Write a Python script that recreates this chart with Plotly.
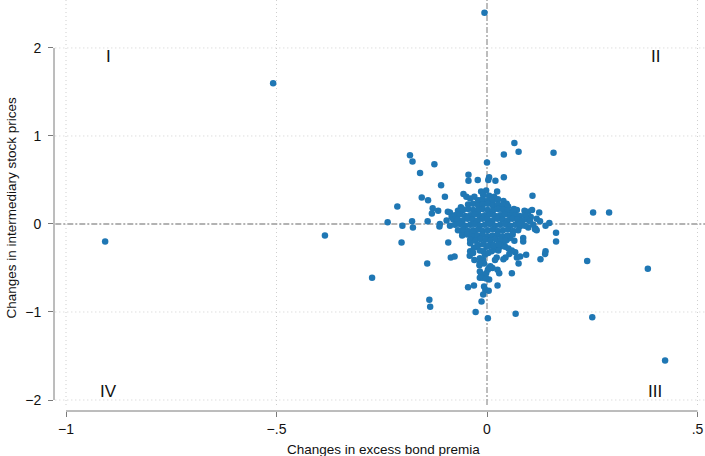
import plotly.graph_objects as go

# ---- data: (change in excess bond premia, change in intermediary stock prices)
outlier_pts = [
    (-0.006, 2.40), (-0.508, 1.60), (-0.907, -0.20), (-0.385, -0.13), (-0.273, -0.61),
    (0.252, 0.13), (0.290, 0.13), (0.238, -0.42), (0.382, -0.51), (0.250, -1.06),
    (0.423, -1.55), (0.158, 0.81),
]
upper_pts = [
    (-0.183, 0.78), (-0.177, 0.71), (-0.159, 0.58), (-0.125, 0.68), (-0.109, 0.44),
    (-0.155, 0.30), (-0.140, 0.27), (-0.100, 0.31), (-0.213, 0.20), (-0.129, 0.18),
    (-0.131, 0.12), (-0.116, 0.15), (-0.093, 0.14), (-0.088, 0.13), (-0.062, 0.19),
    (-0.059, 0.17), (-0.056, 0.34), (-0.049, 0.31), (-0.040, 0.29), (-0.030, 0.31),
    (-0.044, 0.56), (-0.044, 0.49), (-0.022, 0.50), (0.000, 0.70), (0.005, 0.53),
    (0.003, 0.50), (0.020, 0.49), (0.040, 0.53), (0.065, 0.92), (0.040, 0.79),
    (0.075, 0.82), (-0.014, 0.37), (-0.002, 0.38), (0.024, 0.37), (0.108, 0.32),
    (0.039, 0.26), (0.047, 0.23), (0.064, 0.17), (0.071, 0.16), (0.089, 0.15),
    (0.098, 0.14), (0.107, 0.16), (0.124, 0.13), (0.118, 0.06), (-0.009, 0.33),
    (-0.013, 0.27), (0.005, 0.32), (0.017, 0.31),
]
middle_pts = [
    (-0.236, 0.02), (-0.201, -0.02), (-0.178, 0.03), (-0.176, -0.04), (-0.141, 0.03),
    (-0.203, -0.21), (-0.112, 0.00), (-0.096, 0.04), (-0.080, 0.05), (-0.072, 0.05),
    (-0.113, -0.03), (0.139, -0.02), (0.148, 0.01), (0.115, -0.05), (0.098, -0.04),
    (0.078, -0.03), (0.118, -0.07), (0.114, -0.06), (-0.088, -0.02), (-0.084, 0.08),
    (0.104, 0.08), (0.110, -0.01), (0.126, 0.03),
]
lower_pts = [
    (0.164, -0.10), (0.164, -0.20), (0.139, -0.31), (0.138, -0.34), (0.127, -0.40),
    (0.086, -0.16), (0.086, -0.20), (0.065, -0.19), (0.093, -0.35), (0.079, -0.37),
    (0.075, -0.45), (0.059, -0.56), (0.067, -0.32), (0.059, -0.30), (0.053, -0.34),
    (0.044, -0.38), (0.039, -0.40), (0.023, -0.38), (0.019, -0.41), (0.008, -0.48),
    (0.013, -0.50), (0.005, -0.50), (0.025, -0.52), (0.029, -0.56), (-0.009, -0.41),
    (-0.007, -0.45), (-0.005, -0.60), (0.005, -0.63), (-0.007, -0.71), (-0.004, -0.75),
    (0.004, -0.76), (-0.009, -0.80), (0.025, -0.70), (-0.013, -0.88), (0.068, -1.02),
    (0.002, -1.07), (-0.027, -1.00), (-0.137, -0.86), (-0.135, -0.94), (-0.142, -0.45),
    (-0.092, -0.21), (-0.086, -0.38), (-0.077, -0.37), (-0.059, -0.09), (-0.041, -0.36),
    (-0.030, -0.41), (-0.031, -0.27), (-0.024, -0.26), (-0.017, -0.44), (-0.045, -0.72),
    (-0.031, -0.70), (-0.017, -0.61), (-0.010, -0.61), (-0.014, -0.58), (-0.002, -0.62),
    (0.071, -0.38), (-0.040, -0.22), (-0.034, -0.13), (-0.029, -0.11), (-0.023, -0.14),
    (0.043, -0.26), (0.051, -0.28), (0.031, -0.26), (-0.040, -0.31), (-0.033, -0.33),
    (-0.017, -0.30), (-0.009, -0.31), (-0.001, -0.26), (0.011, -0.31), (0.019, -0.29),
    (0.027, -0.30), (-0.005, -0.35), (0.003, -0.33), (-0.017, -0.39), (-0.018, -0.47),
    (0.002, -0.52), (-0.002, -0.56), (-0.017, -0.54), (0.047, -0.18), (0.055, -0.16),
    (0.039, -0.24), (0.031, -0.22), (0.015, -0.26),
]
core_pts = [
    (-0.021, 0.27), (-0.010, 0.28), (0.002, 0.26), (0.014, 0.27), (0.026, 0.28),
    (-0.045, 0.22), (-0.033, 0.23), (-0.021, 0.21), (-0.010, 0.22), (0.002, 0.23),
    (0.014, 0.21), (0.026, 0.22), (0.038, 0.21), (0.050, 0.20),
    (-0.069, 0.15), (-0.057, 0.16), (-0.045, 0.17), (-0.033, 0.16), (-0.021, 0.15),
    (-0.010, 0.17), (0.002, 0.16), (0.014, 0.15), (0.026, 0.17), (0.038, 0.16),
    (0.050, 0.15), (0.062, 0.14),
    (-0.076, 0.10), (-0.064, 0.11), (-0.052, 0.09), (-0.040, 0.10), (-0.029, 0.11),
    (-0.017, 0.09), (-0.005, 0.10), (0.007, 0.11), (0.019, 0.09), (0.031, 0.10),
    (0.043, 0.11), (0.055, 0.09), (0.067, 0.10), (0.078, 0.09), (0.090, 0.10),
    (-0.070, 0.05), (-0.058, 0.04), (-0.046, 0.06), (-0.034, 0.05), (-0.022, 0.04),
    (-0.011, 0.06), (0.001, 0.05), (0.013, 0.04), (0.025, 0.06), (0.037, 0.05),
    (0.049, 0.04), (0.060, 0.06), (0.072, 0.05), (0.084, 0.04), (0.096, 0.05),
    (0.102, 0.03),
    (-0.076, -0.01), (-0.064, 0.00), (-0.052, -0.02), (-0.040, -0.01), (-0.029, 0.00),
    (-0.017, -0.02), (-0.005, -0.01), (0.007, 0.00), (0.019, -0.02), (0.031, -0.01),
    (0.043, 0.00), (0.055, -0.02), (0.067, -0.01), (0.078, 0.00), (0.090, -0.02),
    (-0.069, -0.07), (-0.057, -0.06), (-0.045, -0.08), (-0.033, -0.07), (-0.021, -0.06),
    (-0.010, -0.08), (0.002, -0.07), (0.014, -0.06), (0.026, -0.08), (0.038, -0.07),
    (0.050, -0.06), (0.062, -0.08), (0.074, -0.07),
    (-0.059, -0.13), (-0.047, -0.12), (-0.035, -0.14), (-0.023, -0.13), (-0.011, -0.12),
    (0.001, -0.14), (0.013, -0.13), (0.025, -0.12), (0.037, -0.14), (0.049, -0.13),
    (0.061, -0.12),
    (-0.040, -0.18), (-0.028, -0.19), (-0.016, -0.17), (-0.004, -0.18), (0.008, -0.19),
    (0.020, -0.17), (0.032, -0.18), (0.044, -0.19),
    (-0.021, -0.24), (-0.009, -0.23), (0.003, -0.25), (0.015, -0.24), (0.027, -0.23),
]

x_tickvals = [-1, -0.5, 0, 0.5]
x_ticktext = ["\u22121", "\u2212.5", "0", ".5"]
y_tickvals = [-2, -1, 0, 1, 2]
y_ticktext = ["\u22122", "\u22121", "0", "1", "2"]
quadrant_labels = [("I", -0.9, 1.9), ("II", 0.4, 1.9), ("III", 0.4, -1.9), ("IV", -0.9, -1.9)]

all_pts = outlier_pts + upper_pts + middle_pts + lower_pts + core_pts
xs = [p[0] for p in all_pts]
ys = [p[1] for p in all_pts]

FONT = "Liberation Sans, Arial, Helvetica, sans-serif"
AXIS_GRAY = "#7a7a7a"
GRID = "#cfcfcf"
ZERO = "#9a9a9a"

fig = go.Figure()
fig.add_trace(go.Scatter(
    x=xs, y=ys, mode="markers",
    marker=dict(size=6.5, color="#1f77b4", line=dict(width=0)),
    showlegend=False, hoverinfo="skip",
))

shapes = []
bottom_gap = 6 / 411
# dotted grid lines
for v in [-1, -0.5, 0.5]:
    shapes.append(dict(type="line", xref="x", yref="paper", x0=v, x1=v, y0=bottom_gap, y1=1,
                       line=dict(color=GRID, width=1, dash="1px,3px"), layer="below"))
for v in [-2, -1, 1, 2]:
    shapes.append(dict(type="line", xref="paper", yref="y", x0=0.002, x1=1, y0=v, y1=v,
                       line=dict(color=GRID, width=1, dash="1px,3px"), layer="below"))
# dashed reference lines at zero
shapes.append(dict(type="line", xref="x", yref="paper", x0=0, x1=0, y0=bottom_gap, y1=1,
                   line=dict(color=ZERO, width=1.3, dash="6px,2px,2px,2px"), layer="below"))
shapes.append(dict(type="line", xref="paper", yref="y", x0=0.002, x1=1, y0=0, y1=0,
                   line=dict(color=ZERO, width=1.3, dash="6px,2px,2px,2px"), layer="below"))
# axis lines (span tick range only)
shapes.append(dict(type="line", xref="paper", yref="y", x0=0, x1=0, y0=-2, y1=2,
                   line=dict(color=AXIS_GRAY, width=1)))
shapes.append(dict(type="line", xref="x", yref="paper", x0=-1, x1=0.5, y0=0, y1=0,
                   line=dict(color=AXIS_GRAY, width=1)))

annotations = []
for txt, qx, qy in quadrant_labels:
    annotations.append(dict(text=txt, x=qx, y=qy, xref="x", yref="y", showarrow=False,
                            font=dict(family=FONT, size=17, color="#111")))
annotations.append(dict(text="Changes in excess bond premia", xref="paper", yref="paper",
                        x=(383 - 54) / 651, y=0, yshift=-38, showarrow=False,
                        xanchor="center", yanchor="middle",
                        font=dict(family=FONT, size=13.5, color="#111")))
annotations.append(dict(text="Changes in intermediary stock prices", xref="paper", yref="paper",
                        x=0, xshift=-42, y=0.495, textangle=-90, showarrow=False,
                        xanchor="center", yanchor="middle",
                        font=dict(family=FONT, size=13.5, color="#111")))

fig.update_layout(
    width=705, height=456,
    margin=dict(l=54, r=0, t=0, b=45),
    paper_bgcolor="white", plot_bgcolor="white",
    shapes=shapes, annotations=annotations,
    xaxis=dict(range=[-1.0285, 0.5178], tickvals=x_tickvals, ticktext=x_ticktext,
               showgrid=False, zeroline=False, showline=False,
               ticks="outside", ticklen=5, tickcolor=AXIS_GRAY, tickwidth=1,
               tickfont=dict(family=FONT, size=14, color="#111"), fixedrange=True),
    yaxis=dict(range=[-2.125, 2.545], tickvals=y_tickvals, ticktext=y_ticktext,
               showgrid=False, zeroline=False, showline=False,
               ticks="outside", ticklen=5, tickcolor=AXIS_GRAY, tickwidth=1,
               ticklabelstandoff=4,
               tickfont=dict(family=FONT, size=14, color="#111"), fixedrange=True),
)

fig.write_html("out.html")
